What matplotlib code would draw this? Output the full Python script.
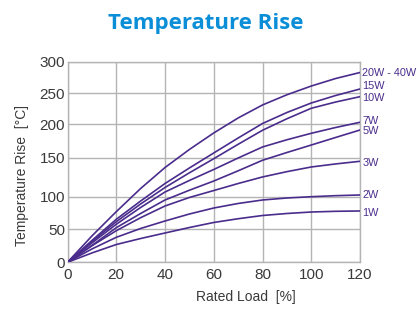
import numpy as np
import matplotlib
matplotlib.use("Agg")
import matplotlib.pyplot as plt

# Rated load [%]
load = [0, 10, 20, 30, 40, 50, 60, 70, 80, 90, 100, 110, 120]

# Temperature rise [°C] per power rating
rise_20_40w = [0, 39.5, 76.8, 110.5, 137.4, 162.2, 186.7, 209.8, 231, 247.6, 261.5, 273.4, 282.9]
rise_15w = [0, 32.7, 65, 93.3, 116.9, 136.8, 157, 179.2, 200.8, 218.7, 234.2, 246.4, 256.8]
rise_10w = [0, 31.2, 61.3, 88.7, 111.8, 130.6, 148.7, 169.9, 190.7, 208.5, 225.6, 235.8, 244.5]
rise_7w = [0, 29, 57.3, 83.3, 106, 120.8, 134.9, 149.6, 165.9, 176.6, 186.2, 194.8, 202.8]
rise_5w = [0, 25.2, 52, 74, 94.9, 108.3, 120.1, 133.2, 146.7, 157.7, 168.8, 180, 191.1]
rise_3w = [0, 24.8, 47.4, 67.5, 85.6, 98.8, 107.9, 116.9, 125.3, 132.1, 138.1, 142, 145.4]
rise_2w = [0, 20, 37.5, 50.8, 62.4, 73.2, 82.5, 89.5, 94.9, 98, 100, 101.3, 102.2]
rise_1w = [0, 14, 26.7, 35.7, 44, 52.3, 60.1, 65.9, 70.9, 74, 76.3, 77.4, 77.9]

series_labels = ["20W - 40W", "15W", "10W", "7W", "5W", "3W", "2W", "1W"]
series = [rise_20_40w, rise_15w, rise_10w, rise_7w, rise_5w, rise_3w,
          rise_2w, rise_1w]

y_ticks = [0, 50, 100, 150, 200, 250, 300]
x_ticks = [0, 20, 40, 60, 80, 100, 120]

# the source chart's y grid is not evenly spaced; mimic it with a piecewise scale
_grid_pos = np.array([0.0, 33.3, 65.6, 104.6, 138.3, 169.0, 200.6])
_grid_val = np.array(y_ticks, dtype=float)


def _fwd(v):
    return np.interp(v, _grid_val, _grid_pos)


def _inv(u):
    return np.interp(u, _grid_pos, _grid_val)


W, H = 417, 309
fig = plt.figure(figsize=(W / 100, H / 100), dpi=100)
ax = fig.add_axes([67.5 / W, 1 - 262.3 / H, (360 - 67.5) / W, (262.3 - 61.7) / H])

purple = "#4a2c8c"
grid_c = "#b4b4b4"
txt_c = "#3a3a3a"
font = "Liberation Sans"

for vals in series:
    ax.plot(load, vals, color=purple, lw=1.2, solid_capstyle="round",
            solid_joinstyle="round", zorder=3)

ax.set_yscale("function", functions=(_fwd, _inv))
ax.set_xlim(0, 120)
ax.set_ylim(0, 300)
ax.set_xticks(x_ticks)
ax.set_yticks(y_ticks)
ax.set_xticklabels([str(t) for t in x_ticks], fontfamily=font, fontsize=11, color=txt_c)
ax.set_yticklabels([str(t) for t in y_ticks], fontfamily=font, fontsize=11, color=txt_c)
ax.tick_params(axis="both", length=0)
ax.tick_params(axis="x", pad=3.8)
ax.tick_params(axis="y", pad=1.8)
ax.grid(True, color=grid_c, lw=1.0, zorder=0)
for s in ax.spines.values():
    s.set_color(grid_c)
    s.set_linewidth(1.0)

# right-hand series labels (small vertical nudges as in the source)
label_dy = [0, 2.2, -1.0, 0.6, -0.8, -1.4, 0, -1.2]
for lab, vals, dy in zip(series_labels, series, label_dy):
    ax.annotate(lab, xy=(120, vals[-1]), xytext=(1.6, dy), textcoords="offset points",
                ha="left", va="center", fontsize=7.8, color=purple,
                fontfamily=font, annotation_clip=False)

fig.text(206 / W, 1 - 23 / H, "Temperature Rise", ha="center", va="center",
         fontsize=16, fontweight="bold", color="#0a8ed8", fontfamily="Open Sans")
fig.text(246 / W, 1 - 297 / H, "Rated Load  [%]", ha="center", va="center",
         fontsize=10, color=txt_c, fontfamily=font)
fig.text(22 / W, 1 - 176 / H, "Temperature Rise  [°C]", ha="center", va="center",
         rotation=90, fontsize=10, color=txt_c, fontfamily=font)

fig.savefig("out.png", dpi=100)
